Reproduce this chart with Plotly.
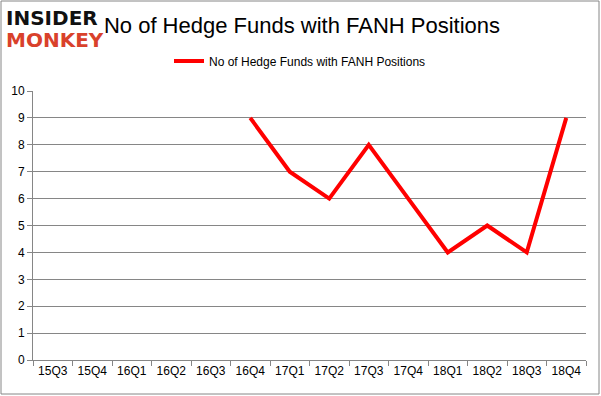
import plotly.graph_objects as go

quarters = ["15Q3", "15Q4", "16Q1", "16Q2", "16Q3", "16Q4", "17Q1", "17Q2",
            "17Q3", "17Q4", "18Q1", "18Q2", "18Q3", "18Q4"]
hedge_funds = [None, None, None, None, None, 9, 7, 6, 8, 6, 4, 5, 4, 9]
y_ticks = list(range(0, 11))

series_name = "No of Hedge Funds with FANH Positions"
FONT = "Liberation Sans"
GRID = "#868686"

fig = go.Figure()
fig.add_trace(go.Scatter(
    x=quarters, y=hedge_funds, mode="lines", name=series_name,
    line=dict(color="#ff0000", width=4), connectgaps=False,
))

L, R, T, B = 33, 15, 91, 36
W, H = 601, 396
pw, ph = W - L - R, H - T - B

def py(pix):
    return (H - B - pix) / ph

def px(pix):
    return (pix - L) / pw

fig.update_layout(
    width=W, height=H,
    margin=dict(l=L, r=R, t=T, b=B, autoexpand=False),
    paper_bgcolor="white", plot_bgcolor="white",
    font=dict(family=FONT, size=12, color="#000000"),
    title=dict(text="No of Hedge Funds with FANH Positions", x=302 / W, xanchor="center",
               y=1 - 25 / H, yanchor="middle",
               font=dict(family=FONT, size=22, color="#000000")),
    showlegend=True,
    legend=dict(orientation="h", x=px(300), xanchor="center", y=py(61),
                yanchor="middle", font=dict(family=FONT, size=12),
                bgcolor="rgba(0,0,0,0)"),
    xaxis=dict(type="category", categoryorder="array", categoryarray=quarters,
               showgrid=False, showline=True, linecolor=GRID, linewidth=1,
               ticks="outside", tickson="boundaries", ticklen=5, tickcolor=GRID,
               tickfont=dict(family=FONT, size=12), range=[-0.5, 13.5]),
    yaxis=dict(range=[0, 10], tickvals=y_ticks, showgrid=True, gridcolor=GRID, gridwidth=1,
               showline=True, linecolor=GRID, linewidth=1, ticks="outside", ticklen=5,
               tickcolor=GRID, tickfont=dict(family=FONT, size=12), zeroline=False),
)

# outer chart border
fig.add_shape(type="rect", xref="paper", yref="paper",
              x0=px(1), x1=px(599), y0=py(394), y1=py(1),
              line=dict(color=GRID, width=1), fillcolor="rgba(0,0,0,0)", layer="below")

# logo text
fig.add_annotation(text="<b>INSIDER</b>", xref="paper", yref="paper",
                   x=px(4), y=py(18), xanchor="left", yanchor="middle",
                   showarrow=False, font=dict(family="DejaVu Sans", size=20, color="#111111"))
fig.add_annotation(text="<b>MONKEY</b>", xref="paper", yref="paper",
                   x=px(4), y=py(40), xanchor="left", yanchor="middle",
                   showarrow=False, font=dict(family="DejaVu Sans", size=20, color="#d9412b"))

fig.write_html("out.html", config={"displayModeBar": False},
               post_script="document.body.style.margin='0';document.body.style.overflow='hidden';")
